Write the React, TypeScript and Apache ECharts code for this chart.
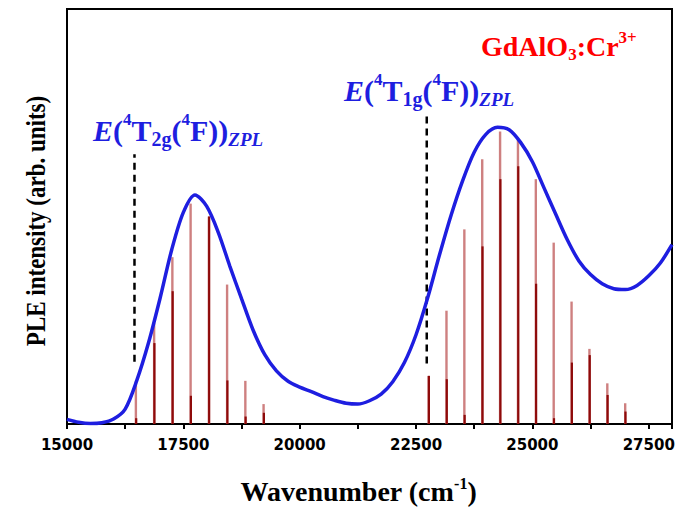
import React, { useEffect, useRef } from 'react';
import * as echarts from 'echarts';

// Excitation (PLE) curve
const curveX = [15000, 15250, 15500, 15750, 16000, 16250, 16500, 16750, 17000, 17250, 17500, 17750, 18000, 18250, 18500, 18750, 19000, 19250, 19500, 19750, 20000, 20250, 20500, 20750, 21000, 21250, 21500, 21750, 22000, 22250, 22500, 22750, 23000, 23250, 23500, 23750, 24000, 24250, 24500, 24750, 25000, 25250, 25500, 25750, 26000, 26250, 26500, 26750, 27000, 27250, 27500, 27750, 28000];
const curveY = [1.1, 0.4, 0.1, 0.3, 1.2, 3.6, 10.5, 19.5, 30.3, 42.0, 51.0, 55.2, 52.5, 46.2, 38.0, 30.2, 22.6, 16.7, 12.8, 10.3, 8.9, 7.8, 6.6, 5.7, 5.0, 4.8, 5.6, 7.2, 10.2, 14.8, 21.5, 30.4, 40.6, 50.2, 58.6, 65.5, 69.8, 71.5, 70.9, 67.8, 63.2, 56.9, 50.6, 44.4, 39.3, 36.0, 33.8, 32.6, 32.4, 33.4, 35.7, 38.8, 43.2];

// Vibronic lines (two overlapping sets)
const lineX = [16480, 16872, 17264, 17656, 18048, 18440, 18832, 19224,
  22770, 23154, 23538, 23922, 24306, 24690, 25074, 25458, 25842, 26226, 26610, 26994];
const lightH = [10.2, 24.3, 40.2, 53.1, 50.0, 33.6, 10.4, 4.8,
  11.6, 27.3, 46.9, 63.8, 70.5, 68.5, 59.0, 43.7, 29.5, 18.1, 9.8, 5.0];
const darkH = [1.4, 19.5, 32.0, 6.8, 50.0, 10.5, 1.8, 2.7,
  11.6, 10.8, 2.2, 42.8, 59.0, 62.1, 33.8, 1.4, 14.8, 16.6, 7.0, 3.0];

// ZPL markers
const zplX = [16450, 22730];
const zplTop = [65, 74.5];
const zplBottom = [15, 14.6];

const xTicks = [15000, 17500, 20000, 22500, 25000, 27500];

const SERIF = '"Liberation Serif", "Times New Roman", serif';
const BLUE = '#1e1ee0';
const RED = '#ff0000';

function barSeries(heights: number[], color: string, width: number, offset: number) {
  return {
    type: 'custom',
    data: lineX.map((x, i) => [x, heights[i]]),
    encode: { x: 0, y: 1 },
    z: 2,
    renderItem: (params: any, api: any) => {
      const x = api.value(0);
      const h = api.value(1);
      const top = api.coord([x, h]);
      const base = api.coord([x, 0]);
      return {
        type: 'rect',
        shape: { x: top[0] - width / 2 + offset, y: top[1], width, height: base[1] - top[1] },
        style: { fill: color },
      };
    },
  };
}

function zplLabel(sub: string) {
  return {
    text: `{e|E}{m|(}{sup|4}{m|T}{sub|${sub}}{m|(}{sup|4}{m|F}{m|))}{zpl|ZPL}`,
    fill: BLUE,
    rich: {
      e: { fontFamily: SERIF, fontStyle: 'italic', fontWeight: 'bold', fontSize: 30, lineHeight: 38, fill: BLUE },
      m: { fontFamily: SERIF, fontWeight: 'bold', fontSize: 30, lineHeight: 38, fill: BLUE },
      sup: { fontFamily: SERIF, fontWeight: 'bold', fontSize: 17, verticalAlign: 'top', fill: BLUE },
      sub: { fontFamily: SERIF, fontWeight: 'bold', fontSize: 20, verticalAlign: 'bottom', fill: BLUE },
      zpl: { fontFamily: SERIF, fontStyle: 'italic', fontWeight: 'bold', fontSize: 19, verticalAlign: 'bottom', fill: BLUE },
    },
  };
}

export default function App() {
  const ref = useRef<HTMLDivElement>(null);
  useEffect(() => {
    if (!ref.current) return;
    const chart = echarts.init(ref.current, undefined, { renderer: 'svg' });
    chart.setOption({
      animation: false,
      backgroundColor: '#ffffff',
      grid: { left: 67, right: 18, top: 9, bottom: 87, show: true, borderColor: '#000', borderWidth: 2, backgroundColor: 'transparent' },
      xAxis: {
        type: 'value',
        min: 15000,
        max: 28000,
        interval: 1250,
        name: '{a|Wavenumber (cm}{s|-1}{a|)}',
        nameLocation: 'middle',
        nameGap: 51,
        nameTextStyle: {
          padding: [0, 22, 0, 0],
          rich: {
            a: { fontFamily: SERIF, fontWeight: 'bold', fontSize: 28, lineHeight: 32, color: '#000' },
            s: { fontFamily: SERIF, fontWeight: 'bold', fontSize: 16, verticalAlign: 'top', color: '#000' },
          },
        },
        axisLine: { show: true, lineStyle: { color: '#000', width: 2 } },
        axisTick: { show: true, inside: false, length: 5, lineStyle: { color: '#000', width: 2 } },
        axisLabel: {
          show: true,
          margin: 13,
          fontFamily: '"DejaVu Sans", Verdana, sans-serif',
          fontWeight: 'bold',
          fontSize: 15,
          color: '#000',
          formatter: (v: number) => (xTicks.includes(v) ? String(v) : ''),
        },
        splitLine: { show: false },
      },
      yAxis: {
        type: 'value',
        min: 0,
        max: 100,
        axisLine: { show: true, lineStyle: { color: '#000', width: 2 } },
        axisTick: { show: false },
        axisLabel: { show: false },
        splitLine: { show: false },
      },
      series: [
        barSeries(lightH, 'rgba(190, 85, 85, 0.75)', 2.4, 0),
        barSeries(darkH, '#8e0a0a', 2.2, 0.3),
        ...zplX.map((x, i) => ({
          type: 'line',
          data: [[x, zplBottom[i]], [x, zplTop[i]]],
          symbol: 'none',
          z: 3,
          lineStyle: { color: '#000', width: 2.5, type: [7, 5] },
        })),
        {
          type: 'line',
          data: curveX.map((x, i) => [x, curveY[i]]),
          smooth: 0.3,
          symbol: 'none',
          z: 4,
          lineStyle: { color: BLUE, width: 3.5 },
        },
      ],
      graphic: [
        {
          type: 'text',
          x: 36,
          y: 221,
          rotation: Math.PI / 2,
          scaleY: 1.15,
          z: 10,
          style: {
            text: 'PLE intensity (arb. units)',
            fontFamily: SERIF,
            fontWeight: 'bold',
            fontSize: 23,
            fill: '#000',
            align: 'center',
            verticalAlign: 'middle',
          },
        },
        { type: 'text', left: 93, top: 111, z: 10, style: zplLabel('2g') },
        { type: 'text', left: 344, top: 71, z: 10, style: zplLabel('1g') },
        {
          type: 'text',
          left: 481,
          top: 29,
          z: 10,
          style: {
            text: '{m|GdAlO}{sub|3}{m|:Cr}{sup|3+}',
            fill: RED,
            rich: {
              m: { fontFamily: SERIF, fontWeight: 'bold', fontSize: 28, lineHeight: 34, fill: RED },
              sub: { fontFamily: SERIF, fontWeight: 'bold', fontSize: 17, verticalAlign: 'bottom', fill: RED },
              sup: { fontFamily: SERIF, fontWeight: 'bold', fontSize: 17, verticalAlign: 'top', fill: RED },
            },
          },
        },
      ],
    });
    return () => chart.dispose();
  }, []);
  return <div ref={ref} style={{ position: 'absolute', left: 0, top: 0, width: 690, height: 511 }} />;
}
